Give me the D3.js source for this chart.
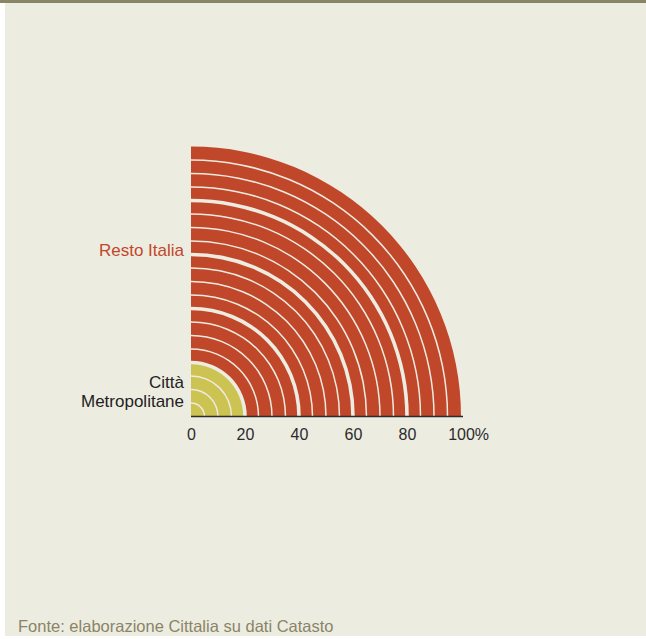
<!DOCTYPE html>
<html>
<head>
<meta charset="utf-8">
<script src="https://cdn.jsdelivr.net/npm/d3@7"></script>
<style>
  html, body { margin: 0; padding: 0; background: #ffffff; }
  svg { display: block; }
  text { font-family: "Liberation Sans", Arial, sans-serif; }
</style>
</head>
<body>
<svg id="chart" width="646" height="639"></svg>
<script>
// ---- data ----
const categories = ["Città Metropolitane", "Resto Italia"];
const cittaRings = [5, 10, 15, 20];
const restoRings = [25, 30, 35, 40, 45, 50, 55, 60, 65, 70, 75, 80, 85, 90, 95, 100];
const tickValues = [0, 20, 40, 60, 80, 100];
const source = "Fonte: elaborazione Cittalia su dati Catasto";

// ---- styles ----
const colors = { "Città Metropolitane": "#CDC352", "Resto Italia": "#C1472A" };
const bg = "#EDECE1";

const svg = d3.select("#chart");
svg.append("rect").attr("x", 0).attr("y", 0).attr("width", 646).attr("height", 639).attr("fill", "#ffffff");
svg.append("rect").attr("x", 5).attr("y", 0).attr("width", 641).attr("height", 636).attr("fill", bg);
svg.append("rect").attr("x", 0).attr("y", 0).attr("width", 646).attr("height", 3).attr("fill", "#8A8467");

const cx = 191, cy = 416.5;
const x = d3.scaleLinear().domain([0, 100]).range([cx, cx + 270]);
const r = d3.scaleLinear().domain([0, 100]).range([0, 270]);

const rings = [];
let prev = 0;
cittaRings.forEach(v => { rings.push({ cat: categories[0], inner: prev, outer: v }); prev = v; });
restoRings.forEach(v => { rings.push({ cat: categories[1], inner: prev, outer: v }); prev = v; });

const g = svg.append("g").attr("transform", `translate(${cx},${cy})`);
const arc = d3.arc().startAngle(0).endAngle(Math.PI / 2);

function gapAt(v) { return v === 0 ? 0 : (v % 20 === 0 ? 1.8 : 0.75); }

g.selectAll("path.ring").data(rings).join("path")
  .attr("class", "ring")
  .attr("fill", d => colors[d.cat])
  .attr("d", d => arc({
    innerRadius: r(d.inner) + gapAt(d.inner),
    outerRadius: d.outer === 100 ? r(d.outer) : r(d.outer) - gapAt(d.outer)
  }));

// axis
const axis = d3.axisBottom(x).tickValues(tickValues).tickSize(0).tickPadding(12.5)
  .tickFormat(d => d3.format("d")(d));
const ax = svg.append("g").attr("transform", `translate(0,${cy})`).call(axis);
ax.select(".domain").remove();
ax.append("line").attr("x1", cx).attr("x2", cx + 272).attr("y1", 0).attr("y2", 0)
  .attr("stroke", "#2b2b2b").attr("stroke-width", 1.5);
ax.selectAll(".tick text").attr("fill", "#2b2b2b").style("font-size", "16px")
  .style("font-family", '"Liberation Sans", Arial, sans-serif');
ax.selectAll(".tick").filter(d => d === 100).each(function () {
  const t = d3.select(this).select("text");
  const w = t.node().getComputedTextLength();
  d3.select(this).append("text")
    .attr("x", w / 2).attr("y", t.attr("y")).attr("dy", t.attr("dy"))
    .attr("text-anchor", "start").attr("fill", "#2b2b2b").style("font-size", "16px")
    .text("%");
});

// labels
svg.append("text").attr("x", 184).attr("y", 256).attr("text-anchor", "end")
  .attr("fill", colors["Resto Italia"]).style("font-size", "17px").text(categories[1]);
const lab = svg.append("text").attr("text-anchor", "end").attr("fill", "#222").style("font-size", "17px");
lab.append("tspan").attr("x", 184).attr("y", 388).text("Città");
lab.append("tspan").attr("x", 184).attr("y", 407).text("Metropolitane");

// source
svg.append("text").attr("x", 18).attr("y", 632).attr("fill", "#8A8467")
  .style("font-size", "16.5px").text(source);
</script>
</body>
</html>
